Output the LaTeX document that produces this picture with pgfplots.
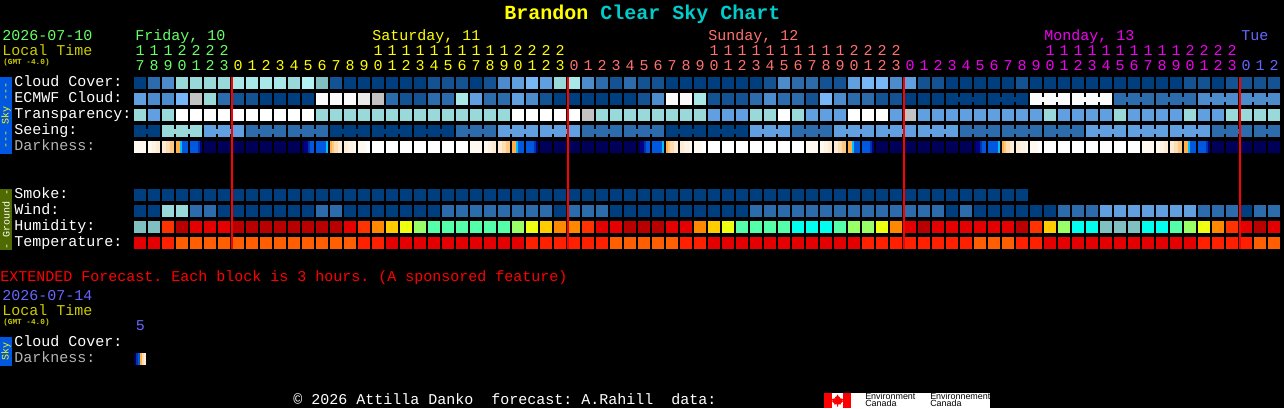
\documentclass[border=0pt]{standalone}
\usepackage{pgfplots}
\usepackage{pgfplotstable}
\usepackage{fontspec}
\pgfplotsset{compat=1.18}
\setmainfont{Liberation Mono}[Ligatures=NoCommon]
\newfontfamily\logofont{Liberation Sans}
\frenchspacing

% 1 px = 0.75pt
\newcommand\txtfont{\fontsize{11.25}{13}\selectfont}

% block colours
\definecolor{cA}{HTML}{003F7F}
\definecolor{cB}{HTML}{135393}
\definecolor{cC}{HTML}{2C6CAC}
\definecolor{cD}{HTML}{4C8CCC}
\definecolor{cE}{HTML}{60A0E0}
\definecolor{cF}{HTML}{77B7F7}
\definecolor{cG}{HTML}{99D9D9}
\definecolor{cH}{HTML}{A8E8E8}
\definecolor{cM}{HTML}{B2F2F2}
\definecolor{cT}{HTML}{80C0C0}
\definecolor{cI}{HTML}{C2C2C2}
\definecolor{cJ}{HTML}{EAEAEA}
\definecolor{cK}{HTML}{FBFBFB}
\definecolor{cL}{HTML}{FFFFFF}
\definecolor{cr}{HTML}{B80000}
\definecolor{cs}{HTML}{E40000}
\definecolor{co}{HTML}{FF3300}
\definecolor{cp}{HTML}{FF8800}
\definecolor{cy}{HTML}{FFCC00}
\definecolor{cz}{HTML}{EEFF11}
\definecolor{cg}{HTML}{99FF66}
\definecolor{cm}{HTML}{55FFAA}
\definecolor{cq}{HTML}{00FFEE}
\definecolor{cu}{HTML}{FF2000}
\definecolor{cv}{HTML}{FF5F00}
% darkness colours
\definecolor{cn}{HTML}{000058}
\definecolor{ca}{HTML}{FFF9F0}
\definecolor{cb}{HTML}{FFF3E4}
\definecolor{cc}{HTML}{FFECD4}
\definecolor{cd}{HTML}{FFDDB0}
\definecolor{ce}{HTML}{FFC880}
\definecolor{cf}{HTML}{FFAE48}
\definecolor{ch}{HTML}{0058E0}
\definecolor{ci}{HTML}{00C0FF}
\definecolor{cj}{HTML}{0034A8}
\definecolor{ck}{HTML}{000088}
% text and tab colours
\definecolor{tgreen}{HTML}{66FF66}
\definecolor{tyellow}{HTML}{FFFF00}
\definecolor{tsalmon}{HTML}{FF7070}
\definecolor{tmagenta}{HTML}{F000F0}
\definecolor{tblue}{HTML}{6666FF}
\definecolor{tlocal}{HTML}{CCCC00}
\definecolor{tcyan}{HTML}{00CCCC}
\definecolor{tgrey}{HTML}{B4B4B4}
\definecolor{tolive}{HTML}{4F6A00}

% fill only, so the size is exact: 12px block, 2px stripe
\pgfdeclareplotmark{cellblock}{\pgfpathrectangle{\pgfqpoint{-4.5pt}{-4.5pt}}{\pgfqpoint{9pt}{9pt}}\pgfusepathqfill}
\pgfdeclareplotmark{cellstripe}{\pgfpathrectangle{\pgfqpoint{-0.8pt}{-4.5pt}}{\pgfqpoint{1.6pt}{9pt}}\pgfusepathqfill}

\tikzset{txt/.style={anchor=base west, inner sep=0pt, font=\txtfont}}
\pgfplotsset{
  cell/.style={scatter, only marks, point meta=explicit symbolic,
    scatter/classes={
      A={mark=cellblock,color=cA}, B={mark=cellblock,color=cB}, C={mark=cellblock,color=cC},
      D={mark=cellblock,color=cD}, E={mark=cellblock,color=cE}, F={mark=cellblock,color=cF},
      G={mark=cellblock,color=cG}, H={mark=cellblock,color=cH}, M={mark=cellblock,color=cM},
      T={mark=cellblock,color=cT}, I={mark=cellblock,color=cI}, J={mark=cellblock,color=cJ},
      K={mark=cellblock,color=cK}, L={mark=cellblock,color=cL}, r={mark=cellblock,color=cr},
      s={mark=cellblock,color=cs}, o={mark=cellblock,color=co}, p={mark=cellblock,color=cp},
      y={mark=cellblock,color=cy}, z={mark=cellblock,color=cz}, g={mark=cellblock,color=cg},
      m={mark=cellblock,color=cm}, q={mark=cellblock,color=cq}, u={mark=cellblock,color=cu},
      v={mark=cellblock,color=cv}, n={mark=cellblock,color=cn}, a={mark=cellblock,color=ca}}},
  stripe/.style={scatter, only marks, point meta=explicit symbolic,
    scatter/classes={
      a={mark=cellstripe,color=ca}, b={mark=cellstripe,color=cb},
      c={mark=cellstripe,color=cc}, d={mark=cellstripe,color=cd},
      e={mark=cellstripe,color=ce}, f={mark=cellstripe,color=cf},
      g={mark=cellstripe,color=ci}, h={mark=cellstripe,color=ch},
      j={mark=cellstripe,color=cj}, k={mark=cellstripe,color=ck},
      n={mark=cellstripe,color=cn}, L={mark=cellstripe,color=cL}}},
  hour/.style={only marks, mark=none, nodes near coords, point meta=explicit symbolic,
    nodes near coords style={anchor=base, inner sep=0pt, font=\txtfont, text=#1}},
  box/.style={fill=#1, draw=none, mark=none},
}

% joins the blocks of one 3-hour step: colour, first centre, last centre, row
\newcommand\bridge[4]{\addplot[color=c#1, line width=3.75pt, mark=none] coordinates {(#2,#4) (#3,#4)};}

% one line per hourly column; letters name the colour of the block
\pgfplotstableread{
x h1 h0 cloud ecmwf transp seeing dark smoke wind humid temp
140 1 7 A E G A a A A T s
154 1 8 C D E A a A A T s
168 1 9 D D G G a A G o u
182 2 0 G F L G a A G r v
196 2 1 G I L G a A C s v
210 2 2 G G L E n A C s v
224 2 3 G C L E n A A s v
238 0 0 H B L E n A A r v
252 0 1 H B L C n A A r v
266 0 2 H A L C n A A r v
280 0 3 H A L C n A A r v
294 0 4 G A L C n A A r v
308 0 5 M A L C a A A r v
322 0 6 T K G C a A C r v
336 0 7 B K G A a A C r v
350 0 8 A K G A a A A s v
364 0 9 A J G A a A A o u
378 1 0 A I G A L A A p u
392 1 1 A C G A L A A y s
406 1 2 A B G A L A A z s
420 1 3 A B G A L A A g s
434 1 4 B C G A L A A m s
448 1 5 B C G A L A C m s
462 1 6 B H G C L A C m s
476 1 7 A E G C a A C m s
490 1 8 B C G C a A C m s
504 1 9 D C G E a A C m s
518 2 0 E E L E a A C g s
532 2 1 F D L E a A C z u
546 2 2 E B L E n A C y u
560 2 3 G A L E n A A p u
574 0 0 H A L E n A C p u
588 0 1 D A I C n A C o u
602 0 2 C A G C n A C s u
616 0 3 B A G C n A A s v
630 0 4 C A G C n A A r v
644 0 5 B B G C a A A r v
658 0 6 B D G C a A A r v
672 0 7 A K G A a A A s v
686 0 8 A K G A a A A s u
700 0 9 A H G A a A A p u
714 1 0 A B E A L A A y s
728 1 1 A B E A L A A z s
742 1 2 A B E A L A A m s
756 1 3 A C G E L A C m s
770 1 4 B D G E L A C m s
784 1 5 D C L E L A C m s
798 1 6 C C G C L A C q s
812 1 7 C B E C a A C q s
826 1 8 B F E C a A C q s
840 1 9 B D E E a A C m s
854 2 0 E C L E a A C g s
868 2 1 F C L E a A C g u
882 2 2 F B L E n A C z u
896 2 3 D B E E n A C p u
910 0 0 E A I E n A C s u
924 0 1 B A E E n A C r u
938 0 2 B A E E n A C s u
952 0 3 A A E E n A A s u
966 0 4 A A E C n A C s u
980 0 5 A A E C a A A s v
994 0 6 A A E C a A A s v
1008 0 7 A A E C a A A s v
1022 0 8 B A E C a A A r u
1036 0 9 A K E C a A A o u
1050 1 0 A K G C L A A y s
1064 1 1 A K E C L A C g s
1078 1 2 A K E C L A C q s
1092 1 3 A K E E L A C q s
1106 1 4 A K E E L A E T s
1120 1 5 A C G E L A E T s
1134 1 6 A C E E L A E T s
1148 1 7 A C E E a A E q s
1162 1 8 A C E E a A E q s
1176 1 9 A C E E a A E m s
1190 2 0 B C G E a A E g s
1204 2 1 B D E E a A C z u
1218 2 2 A D E C n A C p u
1232 2 3 B D G C n A C o u
1246 0 0 B D G C n A A s u
1260 0 1 B D G C n A C r v
1274 0 2 B D G C n A C s v
}\cells

% darkness blocks at dusk and dawn, six 2px stripes each
\pgfplotstableread{
left s1 s2 s3 s4 s5 s6
148 a a b b c c
162 c c d d e e
176 f f g h h h
190 h h h h j k
302 n k k j h h
316 h h h h h g
330 f e d d c c
344 c c b b b a
358 a a a a L L
484 a a b b c c
498 c c d d e e
512 f f g h h h
526 h h h h j k
638 n k k j h h
652 h h h h h g
666 f e d d c c
680 c c b b b a
694 a a a a L L
820 a a b b c c
834 c c d d e e
848 f f g h h h
862 h h h h j k
974 n k k j h h
988 h h h h h g
1002 f e d d c c
1016 c c b b b a
1030 a a a a L L
1156 a a b b c c
1170 c c d d e e
1184 f f g h h h
1198 h h h h j k
}\stripes

\pgfplotstableread{
left s1 s2 s3 s4 s5 s6
134 n j h f d c
}\extstripes

\begin{document}
\begin{tikzpicture}
\begin{axis}[
  width=963pt, height=306pt, scale only axis,
  xmin=0, xmax=1284, ymin=0, ymax=408, y dir=reverse,
  ticks=none, axis line style={draw=none},
  axis background/.style={fill=black},
  clip mode=individual,
]

% side tabs
\addplot[box=ch] coordinates {(0,77) (12,77) (12,154) (0,154)};
\addplot[box=tolive] coordinates {(0,189) (12,189) (12,250) (0,250)};
\addplot[box=ch] coordinates {(0,337) (12,337) (12,365.5) (0,365.5)};

% block rows
\addplot[cell] table[x=x, y expr=83, meta=cloud] {\cells};
\addplot[cell] table[x=x, y expr=99, meta=ecmwf] {\cells};
\addplot[cell] table[x=x, y expr=115, meta=transp] {\cells};
\addplot[cell] table[x=x, y expr=131, meta=seeing] {\cells};
\addplot[cell] table[x=x, y expr=147, meta=dark] {\cells};
\addplot[cell, restrict x to domain=0:1030] table[x=x, y expr=195, meta=smoke] {\cells};
\addplot[cell] table[x=x, y expr=211, meta=wind] {\cells};
\addplot[cell] table[x=x, y expr=227, meta=humid] {\cells};
\addplot[cell] table[x=x, y expr=243, meta=temp] {\cells};

\pgfplotsinvokeforeach{1,...,6}{
  \addplot[stripe] table[x expr=\thisrow{left}+2*#1-1, y expr=147, meta=s#1] {\stripes};
  \addplot[stripe] table[x expr=\thisrow{left}+2*#1-1, y expr=359, meta=s#1] {\extstripes};
}

% ECMWF steps
\bridge{A}{952}{980}{99} \bridge{A}{994}{1022}{99}
\bridge{K}{1036}{1064}{99} \bridge{K}{1078}{1106}{99}
\bridge{C}{1120}{1148}{99} \bridge{C}{1162}{1190}{99}
\bridge{D}{1204}{1232}{99} \bridge{D}{1246}{1274}{99}
% seeing steps
\bridge{A}{140}{154}{131} \bridge{G}{168}{196}{131} \bridge{E}{210}{238}{131}
\bridge{C}{252}{280}{131} \bridge{C}{294}{322}{131} \bridge{A}{336}{364}{131}
\bridge{A}{378}{406}{131} \bridge{A}{420}{448}{131} \bridge{C}{462}{490}{131}
\bridge{E}{504}{532}{131} \bridge{E}{546}{574}{131} \bridge{C}{588}{616}{131}
\bridge{C}{630}{658}{131} \bridge{A}{672}{700}{131} \bridge{A}{714}{742}{131}
\bridge{E}{756}{784}{131} \bridge{C}{798}{826}{131} \bridge{E}{840}{868}{131}
\bridge{E}{882}{910}{131} \bridge{E}{924}{952}{131} \bridge{C}{966}{994}{131}
\bridge{C}{1008}{1036}{131} \bridge{C}{1050}{1078}{131} \bridge{E}{1092}{1120}{131}
\bridge{E}{1134}{1162}{131} \bridge{E}{1176}{1204}{131} \bridge{C}{1218}{1246}{131}
\bridge{C}{1260}{1274}{131}

% midnight lines
\addplot[color=red, line width=1.5pt, mark=none] coordinates {(232,77) (232,249)};
\addplot[color=red, line width=1.5pt, mark=none] coordinates {(568,77) (568,249)};
\addplot[color=red, line width=1.5pt, mark=none] coordinates {(904,77) (904,249)};
\addplot[color=red, line width=1.5pt, mark=none] coordinates {(1240,77) (1240,249)};

% hour digits
\addplot[hour=tgreen, restrict x to domain=140:224] table[x=x, y expr=55, meta=h1] {\cells};
\addplot[hour=tyellow, restrict x to domain=378:560] table[x=x, y expr=55, meta=h1] {\cells};
\addplot[hour=tsalmon, restrict x to domain=714:896] table[x=x, y expr=55, meta=h1] {\cells};
\addplot[hour=tmagenta, restrict x to domain=1050:1232] table[x=x, y expr=55, meta=h1] {\cells};
\addplot[hour=tgreen, restrict x to domain=140:224] table[x=x, y expr=70, meta=h0] {\cells};
\addplot[hour=tyellow, restrict x to domain=238:560] table[x=x, y expr=70, meta=h0] {\cells};
\addplot[hour=tsalmon, restrict x to domain=574:896] table[x=x, y expr=70, meta=h0] {\cells};
\addplot[hour=tmagenta, restrict x to domain=910:1232] table[x=x, y expr=70, meta=h0] {\cells};
\addplot[hour=tblue, restrict x to domain=1246:1274] table[x=x, y expr=70, meta=h0] {\cells};

% title
\node[anchor=base west, inner sep=0pt, font=\fontsize{15}{17}\selectfont\bfseries] at (axis cs:504,19)
  {\textcolor{tyellow}{Brandon} \textcolor{tcyan}{Clear Sky Chart}};

% header
\node[txt, text=tgreen] at (axis cs:2,40) {2026-07-10};
\node[txt, text=tlocal] at (axis cs:2,55) {Local Time};
\node[anchor=base west, inner sep=0pt, text=tlocal, font=\fontsize{5.8}{7}\selectfont\bfseries] at (axis cs:3,64) {(GMT -4.0)};
\node[txt, text=tgreen] at (axis cs:135,40) {Friday, 10};
\node[txt, text=tyellow] at (axis cs:372,40) {Saturday, 11};
\node[txt, text=tsalmon] at (axis cs:708,40) {Sunday, 12};
\node[txt, text=tmagenta] at (axis cs:1044,40) {Monday, 13};
\node[txt, text=tblue] at (axis cs:1241,40) {Tue};

% row labels
\node[txt, text=white] at (axis cs:14,86) {Cloud Cover:};
\node[txt, text=white] at (axis cs:14,102) {ECMWF Cloud:};
\node[txt, text=white] at (axis cs:14,118) {Transparency:};
\node[txt, text=white] at (axis cs:14,134) {Seeing:};
\node[txt, text=tgrey] at (axis cs:14,150) {Darkness:};
\node[txt, text=white] at (axis cs:14,198) {Smoke:};
\node[txt, text=white] at (axis cs:14,214) {Wind:};
\node[txt, text=white] at (axis cs:14,230) {Humidity:};
\node[txt, text=white] at (axis cs:14,246) {Temperature:};

% tab captions
\node[rotate=90, inner sep=0pt, text=tyellow, font=\fontsize{7.5}{9}\selectfont] at (axis cs:6,115.5) {{-}{-}{-} Sky {-}{-}{-}};
\node[rotate=90, inner sep=0pt, text=white, font=\fontsize{7.5}{9}\selectfont] at (axis cs:6,219) {- Ground -};
\node[rotate=90, inner sep=0pt, text=tyellow, font=\fontsize{7.5}{9}\selectfont] at (axis cs:6,351) {Sky};

% extended forecast
\node[txt, text=red] at (axis cs:0,281) {EXTENDED Forecast. Each block is 3 hours. (A sponsored feature)};
\node[txt, text=tblue] at (axis cs:2,300) {2026-07-14};
\node[txt, text=tlocal] at (axis cs:2,315) {Local Time};
\node[anchor=base west, inner sep=0pt, text=tlocal, font=\fontsize{5.8}{7}\selectfont\bfseries] at (axis cs:3,324) {(GMT -4.0)};
\node[txt, text=tblue] at (axis cs:135.5,330) {5};
\node[txt, text=white] at (axis cs:14,346) {Cloud Cover:};
\node[txt, text=tgrey] at (axis cs:14,362) {Darkness:};

% footer
\node[txt, text=white] at (axis cs:293,404) {© 2026 Attilla Danko\ \ forecast: A.Rahill\ \ data:};

% logo
\addplot[box=white] coordinates {(824,393) (990,393) (990,408) (824,408)};
\addplot[box=red] coordinates {(824,393) (832,393) (832,408) (824,408)};
\addplot[box=red] coordinates {(843,393) (851,393) (851,408) (843,408)};
\addplot[box=red] coordinates {(837.5,394.5) (839,397) (840,396.8) (839.6,399) (841,398) (841.5,399)
  (843,398.8) (842.5,401) (843,401.5) (840.5,403.5) (841,404.5) (838,404.2) (838,406.5) (837,406.5)
  (837,404.2) (834,404.5) (834.5,403.5) (832,401.5) (832.5,401) (832,398.8) (833.5,399) (834,398)
  (835.4,399) (835,396.8) (836,397)};
\node[anchor=base west, inner sep=0pt, text=black, font=\logofont\fontsize{6.7}{7}\selectfont] at (axis cs:865,399.5) {Environment};
\node[anchor=base west, inner sep=0pt, text=black, font=\logofont\fontsize{6.7}{7}\selectfont] at (axis cs:865,406.8) {Canada};
\node[anchor=base west, inner sep=0pt, text=black, font=\logofont\fontsize{6.7}{7}\selectfont] at (axis cs:930,399.5) {Environnement};
\node[anchor=base west, inner sep=0pt, text=black, font=\logofont\fontsize{6.7}{7}\selectfont] at (axis cs:930,406.8) {Canada};

\end{axis}
\end{tikzpicture}
\end{document}
